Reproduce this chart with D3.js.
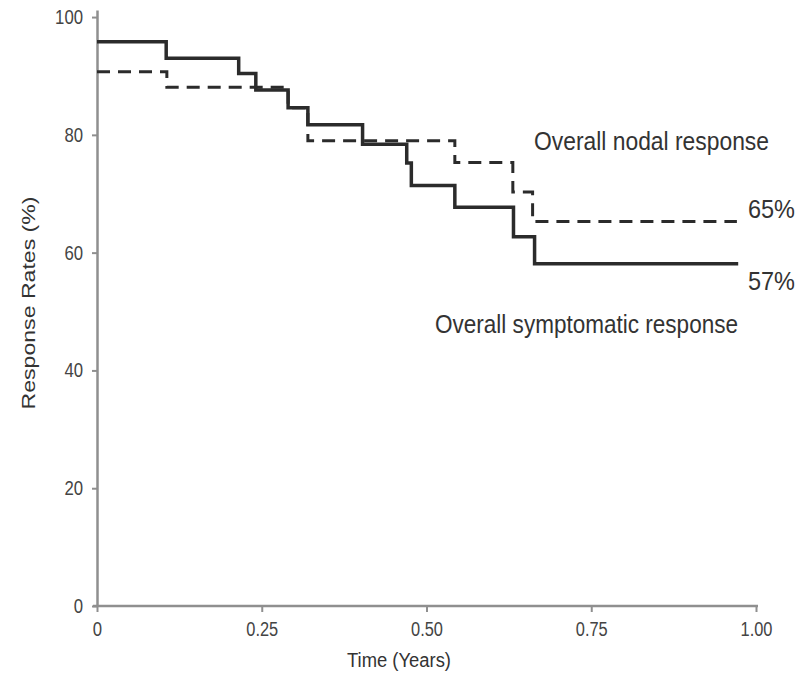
<!DOCTYPE html>
<html>
<head>
<meta charset="utf-8">
<script src="https://cdn.jsdelivr.net/npm/d3@7"></script>
<style>
  html, body { margin: 0; padding: 0; background: #fff; }
  svg { display: block; }
  .narrow { font-family: "Liberation Sans Narrow", "Arial Narrow", "Liberation Sans", sans-serif; }
</style>
</head>
<body>
<script>
// step points (time in years, rate in %)
var symTime = [0, 0.105, 0.215, 0.241, 0.290, 0.320, 0.403, 0.470, 0.477, 0.543, 0.632, 0.664, 0.973];
var symRate = [95.8, 93.0, 90.4, 87.6, 84.6, 81.7, 78.4, 75.2, 71.4, 67.7, 62.7, 58.1, 58.1];
var nodTime = [0, 0.106, 0.290, 0.320, 0.543, 0.631, 0.661, 0.971];
var nodRate = [90.7, 88.1, 84.6, 79.0, 75.3, 70.3, 65.3, 65.3];

var xTicks = [0, 0.25, 0.5, 0.75, 1.0];
var yTicks = [0, 20, 40, 60, 80, 100];

var width = 809, height = 673;

var svg = d3.select('body').append('svg')
  .attr('width', width)
  .attr('height', height);

var x = d3.scaleLinear().domain([0, 1]).range([97, 756]);
var y = d3.scaleLinear().domain([0, 101.2]).range([606, 10]);

var axisColor = '#8f8f8f';

// y axis
var yAxis = svg.append('g')
  .attr('transform', 'translate(' + x(0) + ',0)')
  .call(d3.axisLeft(y).tickValues(yTicks).tickSize(5).tickSizeOuter(0).tickPadding(9));

// x axis
var xAxis = svg.append('g')
  .attr('transform', 'translate(0,' + y(0) + ')')
  .call(d3.axisBottom(x).tickValues(xTicks).tickSize(6).tickSizeOuter(0).tickPadding(10)
    .tickFormat(function (d) { return d === 0 ? '0' : d3.format('.2f')(d); }));

// narrow-looking tick labels: squeeze each one to its width in the picture
function squeeze(sel) {
  sel.each(function () {
    var t = d3.select(this).text();
    var digits = t.replace(/[^0-9]/g, '').length;
    var dots = t.length - digits;
    d3.select(this)
      .attr('textLength', digits * 9.3 + dots * 4)
      .attr('lengthAdjust', 'spacingAndGlyphs');
  });
}

[yAxis, xAxis].forEach(function (g) {
  g.select('.domain').attr('stroke', axisColor).attr('stroke-width', 2.5);
  g.selectAll('.tick line').attr('stroke', axisColor).attr('stroke-width', 2);
  g.selectAll('.tick text')
    .attr('class', 'narrow')
    .attr('fill', '#444')
    .style('font-size', '20px')
    .call(squeeze);
});
xAxis.select('.domain').attr('d', 'M' + (x(0) - 4) + ',0H' + (x(1) + 2));

// lines
var line = d3.line()
  .x(function (d) { return x(d[0]); })
  .y(function (d) { return y(d[1]); })
  .curve(d3.curveStepAfter);

var sym = symTime.map(function (t, i) { return [t, symRate[i]]; });
var nod = nodTime.map(function (t, i) { return [t, nodRate[i]]; });

svg.append('path')
  .datum(nod)
  .attr('d', line)
  .attr('fill', 'none')
  .attr('stroke', '#2b2b2b')
  .attr('stroke-width', 3)
  .attr('stroke-dasharray', '13,8');

svg.append('path')
  .datum(sym)
  .attr('d', line)
  .attr('fill', 'none')
  .attr('stroke', '#2b2b2b')
  .attr('stroke-width', 3.5);

// annotations
function label(txt, x0, base, size, len) {
  svg.append('text')
    .attr('class', 'narrow')
    .attr('x', x0)
    .attr('y', base)
    .attr('fill', '#333')
    .attr('textLength', len)
    .attr('lengthAdjust', 'spacingAndGlyphs')
    .style('font-size', size + 'px')
    .text(txt);
}
label('Overall nodal response', 534, 150, 25, 235);
label('65%', 748, 218, 26, 47);
label('57%', 748, 290, 26, 47);
label('Overall symptomatic response', 435, 333, 26, 303);

// axis titles
svg.append('text')
  .attr('class', 'narrow')
  .attr('x', 399)
  .attr('y', 667)
  .attr('text-anchor', 'middle')
  .attr('fill', '#333')
  .attr('textLength', 104)
  .attr('lengthAdjust', 'spacingAndGlyphs')
  .style('font-size', '20px')
  .text('Time (Years)');

svg.append('text')
  .attr('class', 'narrow')
  .attr('transform', 'translate(35,303) rotate(-90)')
  .attr('text-anchor', 'middle')
  .attr('fill', '#333')
  .attr('textLength', 213)
  .attr('lengthAdjust', 'spacingAndGlyphs')
  .style('font-size', '18px')
  .text('Response Rates (%)');
</script>
</body>
</html>
